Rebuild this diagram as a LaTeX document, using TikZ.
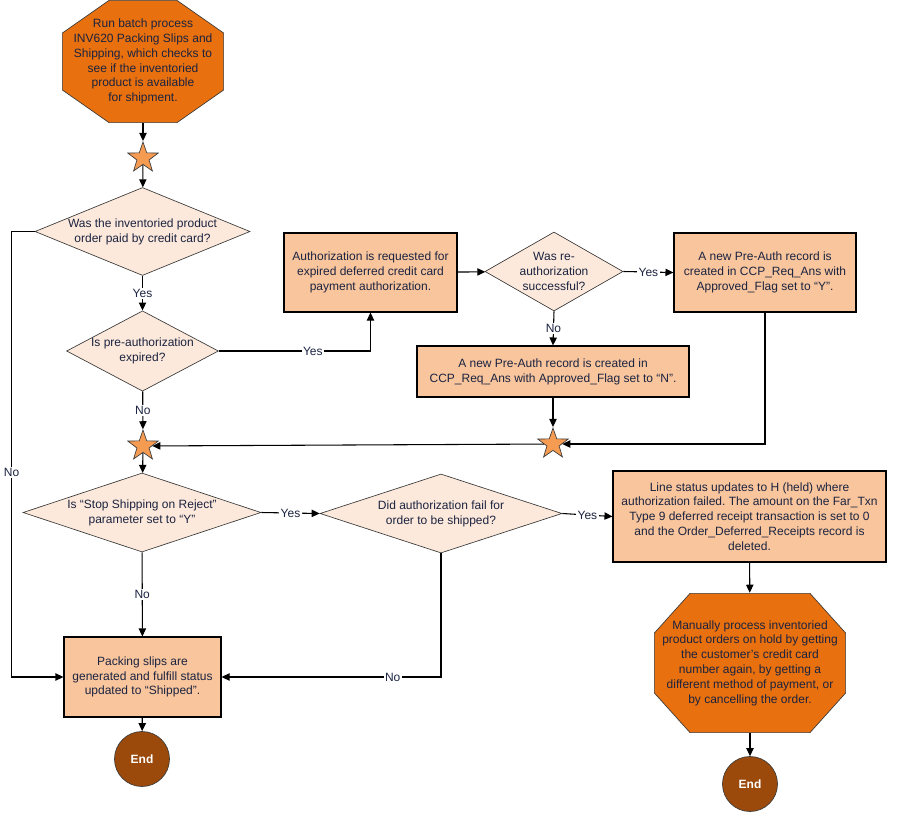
\documentclass[tikz,border=0pt]{standalone}
\usepackage{fontspec}
\setmainfont{Liberation Sans}
\usepackage{tikz}
\usepackage{xcolor}
\usetikzlibrary{arrows.meta,shapes.geometric,calc}
\frenchspacing
\definecolor{ink}{HTML}{000000}
\definecolor{navyink}{HTML}{1B2340}
\definecolor{edgegray}{HTML}{3A3A3A}
\definecolor{stopfill}{HTML}{E8700E}
\definecolor{boxfill}{HTML}{F8C59D}
\definecolor{askfill}{HTML}{FCE9DB}
\definecolor{starfill}{HTML}{F59B52}
\definecolor{endfill}{HTML}{9B4A0C}
\tikzset{
  stopbox/.style 2 args={rectangle,fill=white,align=center,inner sep=0pt,
                  text=navyink,font=\fontsize{9}{11.1}\selectfont,
                  path picture={
                    \filldraw[draw=edgegray,fill=stopfill,line width=0.5pt]
                      let \p1=(path picture bounding box.south west),
                          \p2=(path picture bounding box.north east) in
                      (\x1+#1,\y1+0.3pt) -- (\x2-#1,\y1+0.3pt) -- (\x2-0.3pt,\y1+#2)
                      -- (\x2-0.3pt,\y2-#2) -- (\x2-#1,\y2-0.3pt) -- (\x1+#1,\y2-0.3pt)
                      -- (\x1+0.3pt,\y2-#2) -- (\x1+0.3pt,\y1+#2) -- cycle;}},
  procbox/.style={draw=ink,fill=boxfill,line width=0.8pt,align=center,
                  inner sep=2pt,text=navyink,font=\fontsize{9}{11.1}\selectfont},
  askbox/.style={diamond,draw=edgegray,fill=askfill,line width=0.5pt,
                 align=center,inner sep=0pt,text=navyink,
                 font=\fontsize{9}{11.1}\selectfont},
  joinstar/.style={star,star points=5,star point ratio=2.5,draw=edgegray,
                   fill=starfill,line width=0.5pt,minimum size=24pt,inner sep=0pt},
  endcirc/.style={circle,draw=edgegray,fill=endfill,line width=0.5pt,
                  minimum size=41.25pt,inner sep=0pt,text=white,
                  font=\fontsize{9}{11}\selectfont\bfseries},
  flow/.style={-{Triangle[length=6pt,width=5.5pt]},line width=0.8pt,draw=ink},
  lbl/.style={fill=white,inner sep=1pt,text=navyink,font=\fontsize{9}{11}\selectfont}
}
\begin{document}
\begin{tikzpicture}[x=0.75pt,y=-0.75pt]
  \path[use as bounding box] (0,0) rectangle (897,818);
  \node[stopbox={35.25pt}{24.75pt},minimum width=121.5pt,minimum height=92.25pt]
    (start) at (143,61.5)
    {Run batch process\\INV620 Packing Slips and\\Shipping, which checks to\\see if the inventoried\\product is available\\for shipment.};
  \node[joinstar] (star1) at (143,158) {};
  \node[askbox,aspect=2.44,minimum width=161.25pt,minimum height=66pt]
    (paid) at (142.5,231.5) {Was the inventoried product\\order paid by credit card?};
  \node[askbox,aspect=1.89,minimum width=111.75pt,minimum height=59.25pt]
    (expired) at (142.5,351) {Is pre-authorization\\expired?};
  \node[procbox,minimum width=129.75pt,minimum height=59.25pt]
    (authreq) at (370.5,272.5)
    {Authorization is requested for\\expired deferred credit card\\payment authorization.};
  \node[askbox,aspect=1.75,minimum width=103.5pt,minimum height=59.25pt]
    (reauth) at (554,271.5) {Was re-\\authorization\\successful?};
  \node[procbox,minimum width=136.5pt,minimum height=59.25pt]
    (flagy) at (765,272.5)
    {A new Pre-Auth record is\\created in CCP\_Req\_Ans with\\Approved\_Flag set to “Y”.};
  \node[procbox,minimum width=204pt,minimum height=38.25pt]
    (flagn) at (553,371.5)
    {A new Pre-Auth record is created in\\CCP\_Req\_Ans with Approved\_Flag set to “N”.};
  \node[joinstar] (star3) at (553,444) {};
  \node[joinstar] (star2) at (143,446) {};
  \node[askbox,aspect=3.0,minimum width=178.5pt,minimum height=59.25pt]
    (stopship) at (142,512.5) {Is “Stop Shipping on Reject”\\parameter set to “Y”};
  \node[askbox,aspect=3.07,minimum width=181.5pt,minimum height=59.25pt]
    (failed) at (441,513.5) {Did authorization fail for\\order to be shipped?};
  \node[procbox,minimum width=204.75pt,minimum height=68.25pt]
    (held) at (749.5,516.5)
    {Line status updates to H (held) where\\authorization failed. The amount on the Far\_Txn\\Type 9 deferred receipt transaction is set to 0\\and the Order\_Deferred\_Receipts record is\\deleted.};
  \node[procbox,minimum width=117.75pt,minimum height=60pt]
    (packing) at (142.5,677)
    {Packing slips are\\generated and fulfill status\\updated to “Shipped”.};
  \node[endcirc] (end1) at (142,759) {End};
  \node[stopbox={27pt}{30pt},minimum width=144pt,minimum height=105pt]
    (manual) at (750,663)
    {Manually process inventoried\\product orders on hold by getting\\the customer's credit card\\number again, by getting a\\different method of payment, or\\by cancelling the order.};
  \node[endcirc] (end2) at (750,784) {End};

  \foreach \a/\b in {start/star1,star1/paid,star2/stopship,packing/end1,
                     authreq/reauth,flagn/star3,star3/star2,held/manual,manual/end2}
    \draw[flow] (\a) -- (\b);
  \draw[flow] (paid) -- node[lbl] {Yes} (expired);
  \draw[flow] (expired) -- node[lbl] {No} (star2);
  \draw[flow] (stopship) -- node[lbl] {No} (packing);
  \draw[flow] (paid.west) -- ++(-23,0) |- node[lbl,pos=0.27] {No} (packing.west);
  \draw[flow] (expired.east) -| node[lbl,pos=0.31] {Yes} (authreq.south);
  \draw[flow] (reauth.east) -- node[lbl] {Yes} (flagy.west);
  \draw[flow] (reauth.south) -- node[lbl] {No} (flagn.north);
  \draw[flow] (flagy.south) |- (star3);
  \draw[flow] (stopship.east) -- node[lbl] {Yes} (failed.west);
  \draw[flow] (failed.east) -- node[lbl] {Yes} (held.west);
  \draw[flow] (failed.south) |- node[lbl,pos=0.61] {No} (packing.east);
\end{tikzpicture}
\end{document}
